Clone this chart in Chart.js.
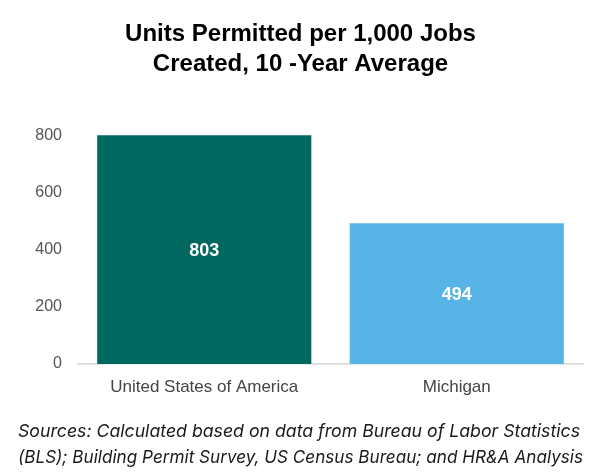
<!DOCTYPE html>
<html>
<head>
<meta charset="utf-8">
<script src="https://cdn.jsdelivr.net/npm/chart.js@4"></script>
<style>
  html, body { margin: 0; padding: 0; background: #fff; }
  #wrap { width: 600px; height: 472px; }
</style>
</head>
<body>
<div id="wrap"><canvas id="chart" width="600" height="472"></canvas></div>
<script>
const categories = ["United States of America", "Michigan"];
const unitsPerThousandJobs = [803, 494];
const barColors = ["#00685f", "#58b4e6"];
const yTicks = [0, 200, 400, 600, 800];
const titleLines = ["Units Permitted per 1,000 Jobs", "Created, 10 -Year Average"];
const sourceLines = [
  "Sources: Calculated based on data from Bureau of Labor Statistics",
  "(BLS); Building Permit Survey, US Census Bureau; and HR&A Analysis"
];

// writes each value in the middle of its bar
const barValueLabels = {
  id: "barValueLabels",
  afterDatasetsDraw(chart) {
    const ctx = chart.ctx;
    const meta = chart.getDatasetMeta(0);
    ctx.save();
    ctx.fillStyle = "#ffffff";
    ctx.font = "bold 18px 'Liberation Sans', Arial, sans-serif";
    ctx.textAlign = "center";
    ctx.textBaseline = "middle";
    meta.data.forEach((bar, i) => {
      const { x, y, base } = bar.getProps(["x", "y", "base"], true);
      ctx.fillText(String(unitsPerThousandJobs[i]), x, (y + base) / 2 + 1);
    });
    ctx.restore();
  },
};

const ctx = document.getElementById("chart").getContext("2d");
const chart = new Chart(ctx, {
  type: "bar",
  data: {
    labels: categories,
    datasets: [
      {
        data: unitsPerThousandJobs,
        backgroundColor: barColors,
        borderWidth: 0,
        barPercentage: 0.848,
        categoryPercentage: 1,
        clip: false,
      },
    ],
  },
  options: {
    responsive: false,
    animation: false,
    layout: {
      padding: { left: 18, right: 17, top: 0, bottom: 2 },
    },
    plugins: {
      legend: { display: false },
      tooltip: { enabled: false },
      title: {
        display: true,
        text: titleLines,
        color: "#000000",
        font: { family: "'Liberation Sans', Arial, sans-serif", size: 24, weight: "bold", lineHeight: 1.23 },
        padding: { top: 20, bottom: 57 },
      },
      subtitle: {
        display: true,
        position: "bottom",
        align: "start",
        text: sourceLines,
        color: "#1a1a1a",
        font: { family: "Inter, 'Noto Sans', sans-serif", size: 17.7, style: "italic", weight: "normal", lineHeight: 1.43 },
        padding: { top: 17, bottom: 0 },
      },
    },
    scales: {
      x: {
        grid: { display: false },
        border: { display: true, color: "#d6d6d6", width: 1.5 },
        ticks: {
          color: "#444444",
          padding: 5,
          font: { family: "'Liberation Sans', Arial, sans-serif", size: 17 },
        },
      },
      y: {
        min: 0,
        max: 800,
        grid: { display: false },
        border: { display: false },
        afterBuildTicks(scale) {
          scale.ticks = yTicks.map((v) => ({ value: v }));
        },
        afterFit(scale) {
          scale.width = 60;
        },
        ticks: {
          color: "#555555",
          padding: 8,
          font: { family: "'Liberation Sans', Arial, sans-serif", size: 16 },
        },
      },
    },
  },
  plugins: [barValueLabels],
});
</script>
</body>
</html>
